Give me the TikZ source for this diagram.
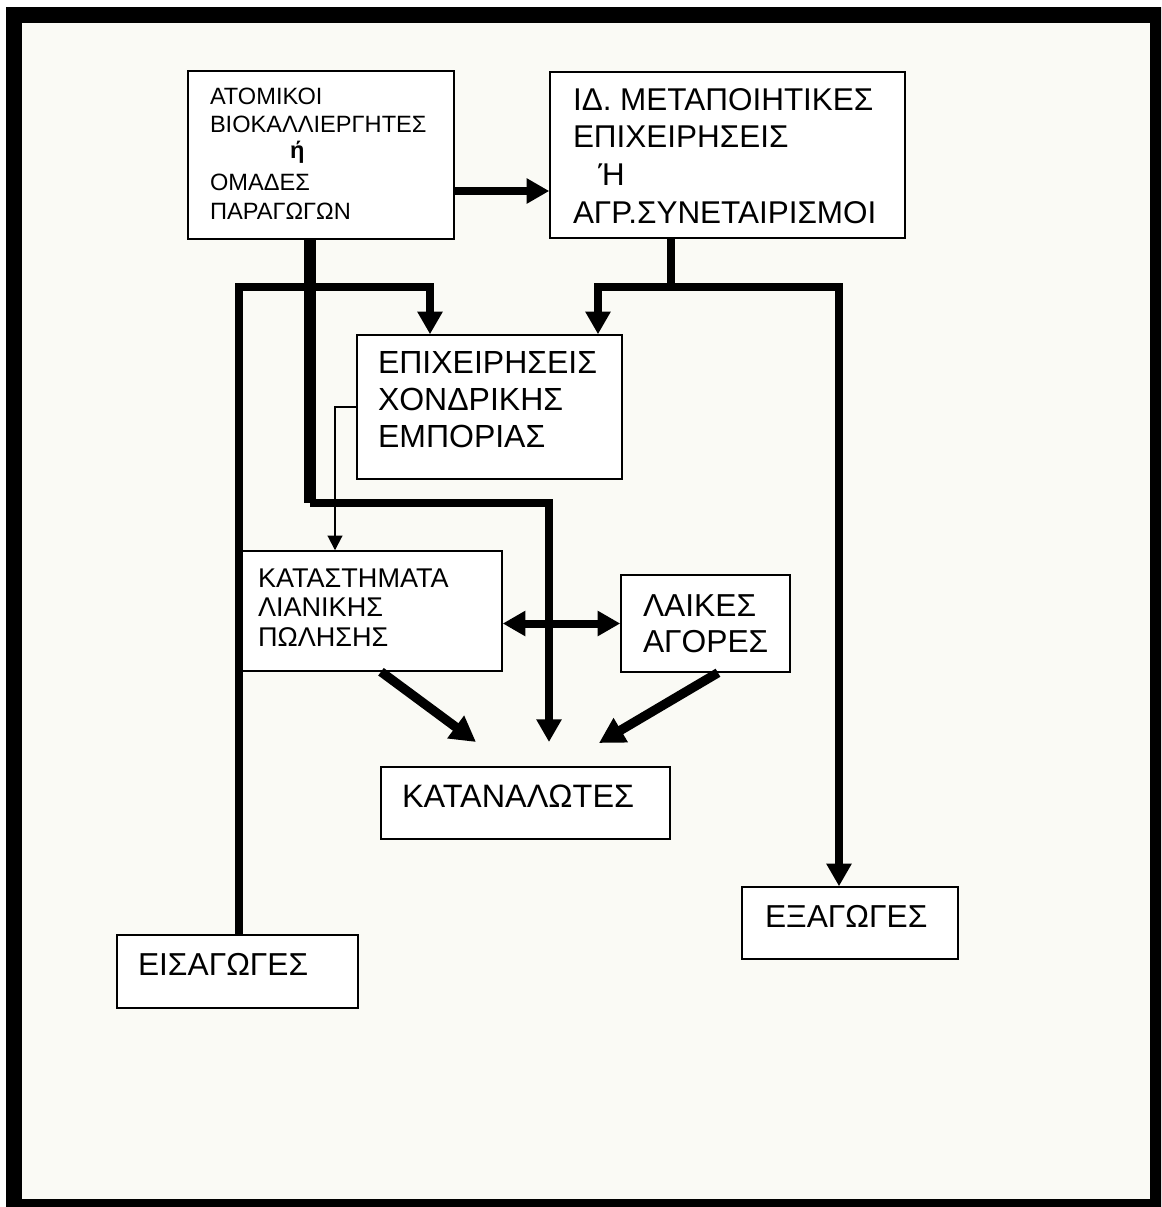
\documentclass[tikz,border=0pt]{standalone}
\usepackage{fontspec}
\setmainfont{Liberation Sans}
\usetikzlibrary{arrows.meta,fit}
\definecolor{bgc}{RGB}{250,250,245}
\begin{document}
\begin{tikzpicture}[x=0.75pt,y=-0.75pt,
  box/.style={draw=black, line width=1.1pt, fill=white, inner sep=0pt},
  txt/.style={anchor=base west, inner sep=0pt, outer sep=0pt, text=black},
  conn/.style={line width=6pt},
  heavy/.style={line width=9pt},
  arr/.style={line width=6pt, -{Triangle[length=17pt,width=18pt]}},
  diag/.style={line width=7pt, -{Triangle[length=19pt,width=20pt]}},
  darr/.style={line width=6pt, {Triangle[length=17pt,width=18pt]}-{Triangle[length=17pt,width=18pt]}},
  thinarr/.style={line width=1.5pt, -{Triangle[length=11pt,width=11pt]}},
]
\useasboundingbox (0,0) rectangle (1161,1207);
\fill[white] (0,0) rectangle (1161,1207);
\fill[bgc] (21,23) rectangle (1150,1199);
\begin{scope}
  \clip (0,0) rectangle (1161,1207);
  \draw[line width=12pt] (13.5,15) rectangle (1158,1207);
\end{scope}

% boxes
\node[box, fit={(188,71) (454,239)}] (b1) {};
\node[box, fit={(550,72) (905,238)}] (b2) {};
\node[box, fit={(357,335) (622,479)}] (b3) {};
\node[box, fit={(237,551) (502,671)}] (b4) {};
\node[box, fit={(621,575) (790,672)}] (b5) {};
\node[box, fit={(381,767) (670,839)}] (b6) {};
\node[box, fit={(117,935) (358,1008)}] (b7) {};
\node[box, fit={(742,887) (958,959)}] (b8) {};

% texts
\node[txt] (b1t) at (210,104) {\parbox[t]{250pt}{\fontsize{17.7pt}{21.6pt}\selectfont
  ΑΤΟΜΙΚΟΙ\\ΒΙΟΚΑΛΛΙΕΡΓΗΤΕΣ\\[-2.5pt]\hspace*{60pt}\textbf{ή}\\[2.5pt]ΟΜΑΔΕΣ\\ΠΑΡΑΓΩΓΩΝ}};
\node[txt] (b2t) at (573,110) {\parbox[t]{300pt}{\fontsize{23.6pt}{28.25pt}\selectfont
  ΙΔ. ΜΕΤΑΠΟΙΗΤΙΚΕΣ\\ΕΠΙΧΕΙΡΗΣΕΙΣ\\\hspace*{19pt}Ή\\ΑΓΡ.ΣΥΝΕΤΑΙΡΙΣΜΟΙ}};
\node[txt] (b3t) at (378,373) {\parbox[t]{250pt}{\fontsize{24pt}{27.75pt}\selectfont
  ΕΠΙΧΕΙΡΗΣΕΙΣ\\ΧΟΝΔΡΙΚΗΣ\\ΕΜΠΟΡΙΑΣ}};
\node[txt] (b4t) at (258,587) {\parbox[t]{250pt}{\fontsize{20.3pt}{22.2pt}\selectfont
  ΚΑΤΑΣΤΗΜΑΤΑ\\ΛΙΑΝΙΚΗΣ\\ΠΩΛΗΣΗΣ}};
\node[txt] (b5t) at (643,616) {\parbox[t]{200pt}{\fontsize{23.8pt}{27pt}\selectfont
  ΛΑΙΚΕΣ\\ΑΓΟΡΕΣ}};
\node[txt] (b6t) at (402,807) {\fontsize{24.3pt}{27pt}\selectfont ΚΑΤΑΝΑΛΩΤΕΣ};
\node[txt] (b7t) at (138,975) {\fontsize{23.8pt}{27pt}\selectfont ΕΙΣΑΓΩΓΕΣ};
\node[txt] (b8t) at (765,927) {\fontsize{23.8pt}{27pt}\selectfont ΕΞΑΓΩΓΕΣ};

% helper coordinates
\coordinate (ya) at (0,191);
\coordinate (jl) at (310,287);
\coordinate (jm) at (310,503);
\coordinate (jr) at (671,287);
\coordinate (xL) at (239,0);
\coordinate (xA3) at (430,0);
\coordinate (xB3) at (598,0);
\coordinate (xR) at (839,0);
\coordinate (xT) at (335,0);
\coordinate (d1) at (381,0);
\coordinate (d2) at (718,0);
\coordinate (t1) at (476,742);
\coordinate (t2) at (599,743);
\coordinate (t3) at (549,742);

% connectors
\draw[arr] (b1.east |- ya) -- (b2.west |- ya);
\draw[conn] (jl) -| (b7.north -| xL);
\draw[arr] (jl) -| (b3.north -| xA3);
\draw[arr] (jm) -| (t3);
\draw[heavy] (b1.south -| jl) -- (jm);
\draw[conn] (b2.south -| jr) -- (jr);
\draw[arr] (jr) -| (b3.north -| xB3);
\draw[arr] (jr) -| (b8.north -| xR);
\draw[thinarr] (b3.west) -| (b4.north -| xT);
\draw[darr] (b4.east |- b5.west) -- (b5.west);
\draw[diag] (b4.south -| d1) -- (t1);
\draw[diag] (b5.south -| d2) -- (t2);
\end{tikzpicture}
\end{document}
